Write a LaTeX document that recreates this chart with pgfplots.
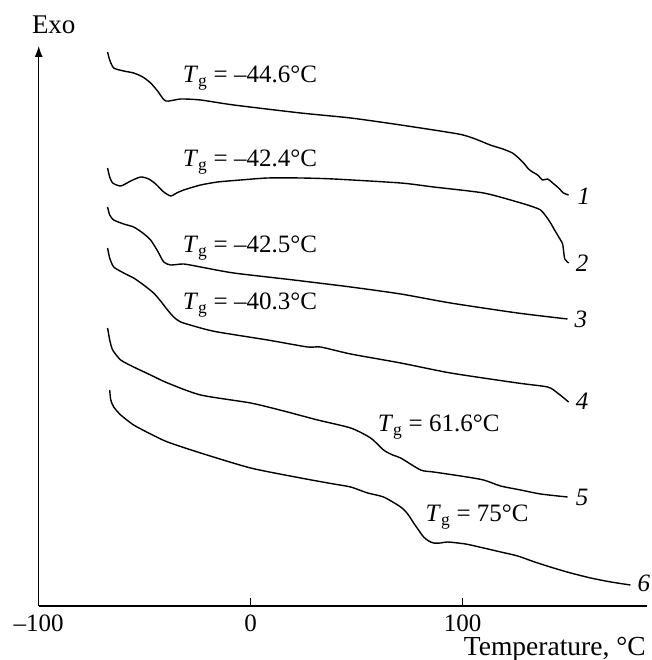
\documentclass[border=0pt]{standalone}
\usepackage{fontspec}
\setmainfont{Liberation Serif}
\usepackage{pgfplots}
\pgfplotsset{compat=1.18}
\usetikzlibrary{arrows.meta}

\begin{document}
\fontsize{25}{30}\selectfont
\begin{tikzpicture}
\useasboundingbox (-38.7pt,-54pt) rectangle (612.3pt,606pt);
\begin{axis}[
  at={(0pt,0pt)}, anchor=south west,
  scale only axis, width=608.3pt, height=560pt,
  xmin=-100, xmax=187, ymin=0, ymax=560,
  axis x line=bottom, axis y line=left,
  axis line style={line width=1.1pt},
  x axis line style={-},
  y axis line style={-{Latex[length=11pt,width=8pt]}},
  xtick={-100,0,100}, xticklabels={–100,0,100},
  ytick=\empty,
  tick align=inside, major tick length=8pt,
  tick style={line width=1pt, black},
  xticklabel style={anchor=north, inner sep=0pt, yshift=-9pt},
  xlabel={Temperature, °C},
  xlabel style={at={(axis description cs:0.998,0)}, anchor=base east, yshift=-49pt,
    inner sep=0pt, font=\fontsize{27.5}{32}\selectfont},
  clip=false,
  dsc/.style={black, line width=1.4pt, smooth, tension=0.4, mark=none},
]
% curve 1
\addplot[dsc] coordinates {
(-67.5,554) (-66.5,546) (-64.6,538) (-59.9,535) (-55.2,533) (-50.9,529) (-47.2,523)
(-43.9,515) (-40.1,505) (-33.0,507) (-23.6,506) (-8.0,501) (23.6,493) (47.2,488)
(70.8,481) (98.0,472) (106.0,467) (113.0,461) (119.0,457) (123.5,453) (126.4,448) (128.8,443)
(131.1,437) (133.0,434) (135.4,431) (137.7,426) (140.1,427) (142.5,423) (145.3,418)
(147.6,413) (150.0,411)};
% curve 2
\addplot[dsc] coordinates {
(-67.5,438) (-66.5,429) (-65.1,423) (-61.3,420) (-56.6,425) (-51.9,429) (-48.1,427)
(-44.8,422) (-41.0,414) (-37.7,410) (-34.9,413) (-31.6,416) (-23.6,421) (-15.6,424)
(-4.7,426) (8.0,428) (23.6,428) (39.2,427) (70.8,423) (86.3,419) (109.9,413)
(125.9,404) (132.1,400) (136.8,396) (139.6,389) (141.5,383) (143.4,376) (144.8,371)
(146.2,366) (147.2,362) (147.7,354) (148.2,347) (150.0,343)};
% curve 3
\addplot[dsc] coordinates {
(-67.5,399) (-66.5,391) (-64.6,386) (-59.9,382) (-55.2,379) (-50.9,373) (-47.2,366)
(-43.9,355) (-41.0,344) (-37.7,341) (-31.6,342) (-23.6,339) (-8.0,333) (20.3,326)
(47.2,319) (70.8,312) (94.3,303) (125.9,293) (149.5,287)};
% curve 4
\addplot[dsc] coordinates {
(-67.5,358) (-66.5,348) (-64.6,339) (-59.9,333) (-55.2,328) (-50.5,321) (-45.8,313)
(-42.5,305) (-39.2,296) (-36.3,289) (-33.0,284) (-23.6,278) (-15.6,274) (8.0,266)
(26.9,259) (33.0,259) (47.2,252) (70.8,243) (94.3,233) (125.9,223) (140.1,219)
(144.8,213) (150.0,204)};
% curve 5
\addplot[dsc] coordinates {
(-67.5,278) (-66.5,266) (-65.1,256) (-61.3,246) (-55.2,239) (-47.2,231) (-39.2,223)
(-23.6,211) (0,203) (15.6,195) (31.6,186) (47.2,178) (56.6,168) (62.7,156) (67.0,151)
(70.8,148) (80.2,136) (86.3,134) (99.1,130) (109.9,126) (117.9,120) (127.4,116)
(136.8,112) (149.5,109)};
% curve 6
\addplot[dsc] coordinates {
(-66.5,216) (-66.0,206) (-64.6,199) (-61.3,191) (-55.2,181) (-47.2,172) (-39.2,164)
(-23.6,153) (0,138) (23.6,128) (39.2,122) (47.2,119) (55.2,113) (62.7,109) (70.8,99)
(74.1,92) (76.9,83) (79.2,76) (81.6,69) (84.0,65) (86.3,63) (89.6,63) (92.9,64)
(101.4,62) (109.9,58) (118.0,54) (126.0,50) (134.0,44) (142.9,38) (151.0,33)
(160.4,28) (170.0,24) (179.2,21)};

% glass transition annotations
\node[anchor=base west, inner sep=0pt] at (axis cs:-32.1,523) {\textit{T}\textsubscript{g} = –44.6°C};
\node[anchor=base west, inner sep=0pt] at (axis cs:-32.1,439) {\textit{T}\textsubscript{g} = –42.4°C};
\node[anchor=base west, inner sep=0pt] at (axis cs:-32.1,353) {\textit{T}\textsubscript{g} = –42.5°C};
\node[anchor=base west, inner sep=0pt] at (axis cs:-32.1,296) {\textit{T}\textsubscript{g} = –40.3°C};
\node[anchor=base west, inner sep=0pt] at (axis cs:59.9,174) {\textit{T}\textsubscript{g} = 61.6°C};
\node[anchor=base west, inner sep=0pt] at (axis cs:82.5,84) {\textit{T}\textsubscript{g} = 75°C};

% curve numbers
\node[anchor=base west, inner sep=0pt] at (axis cs:154.2,401) {\textit{1}};
\node[anchor=base west, inner sep=0pt] at (axis cs:153.3,334) {\textit{2}};
\node[anchor=base west, inner sep=0pt] at (axis cs:152.8,278) {\textit{3}};
\node[anchor=base west, inner sep=0pt] at (axis cs:153.3,196) {\textit{4}};
\node[anchor=base west, inner sep=0pt] at (axis cs:153.3,100) {\textit{5}};
\node[anchor=base west, inner sep=0pt] at (axis cs:182.5,14) {\textit{6}};

% ordinate caption
\node[anchor=base, inner sep=0pt, font=\fontsize{27}{32}\selectfont] at (axis cs:-92.9,572) {Exo};
\end{axis}
\end{tikzpicture}
\end{document}
